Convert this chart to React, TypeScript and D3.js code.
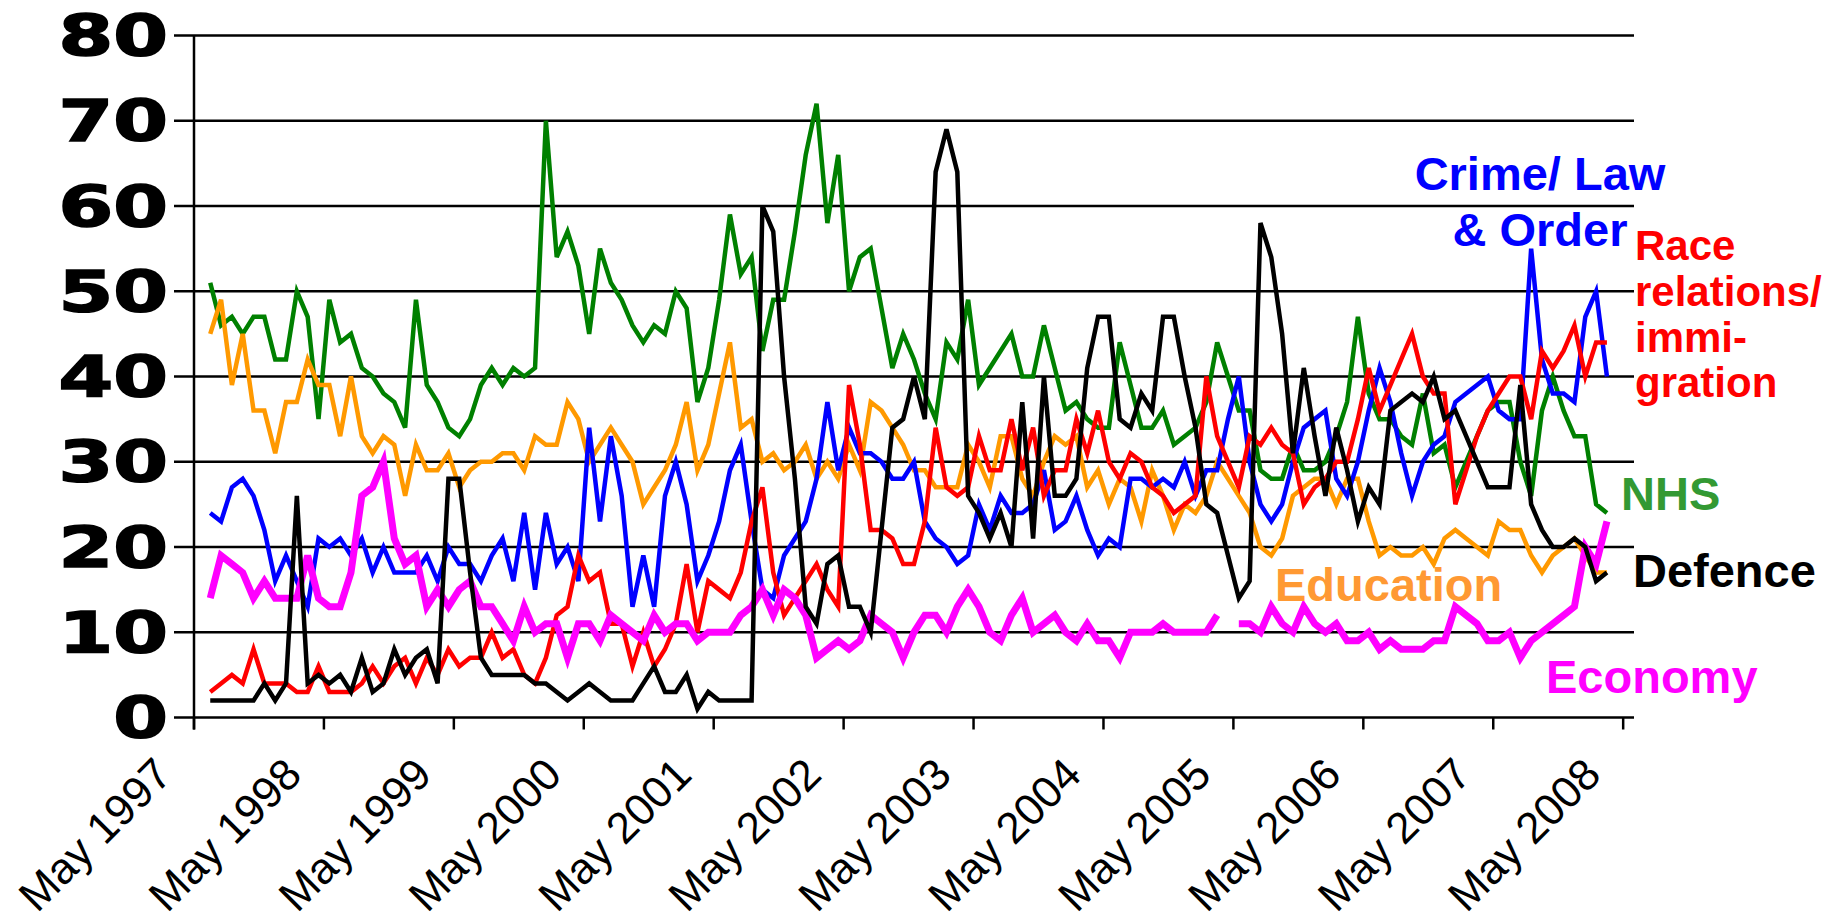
import React from 'react';
import * as d3 from 'd3';

const tickLabels = ['May 1997','May 1998','May 1999','May 2000','May 2001','May 2002','May 2003','May 2004','May 2005','May 2006','May 2007','May 2008'];
const yTicks = [0,10,20,30,40,50,60,70,80];

const nhs = [51,46,47,45,47,47,42,42,50,47,35,49,44,45,41,
 40,38,37,34,49,39,37,34,33,35,39,41,39,41,40,41,
 70,54,57,53,45,55,51,49,46,44,46,45,50,48,37,41,
 49,59,52,54,43,49,49,57,66,72,58,66,50,54,55,48,
 41,45,42,38,35,44,42,49,39,41,43,45,40,40,46,
 41,36,37,35,34,34,44,39,34,34,36,32,33,34,37,44,
 40,36,36,29,28,28,32,29,29,30,33,37,47,38,35,35,
 33,32,38,31,32,27,30,33,36,37,37,30,26,36,40,36,33,33,25,24];

const education = [45,49,39,45,36,36,31,37,37,42,39,39,33,40,33,
 31,33,32,26,32,29,29,31,27,29,30,30,31,31,29,33,
 32,32,37,35,30,32,34,32,30,25,27,29,32,37,29,32,
 38,44,34,35,30,31,29,30,32,28,30,28,32,29,37,36,
 34,32,29,29,27,27,27,32,30,27,33,33,28,26,30,
 33,32,33,27,29,25,28,27,23,29,26,22,25,24,26,30,
 28,26,24,20,19,21,26,27,28,28,25,28,28,23,19,20,
 19,19,20,18,21,22,21,20,19,23,22,22,19,17,19,20,21,19,17,17];

const crime = [24,23,27,28,26,22,16,19,16,13,21,20,21,19,21,
 17,20,17,17,17,19,16,20,18,18,16,19,21,16,24,15,
 24,18,20,16,34,23,33,26,13,19,13,26,30,25,16,19,
 23,29,32,23,15,14,19,21,23,28,37,29,34,31,31,30,
 28,28,30,23,21,20,18,19,25,22,26,24,24,25,29,
 22,23,26,22,19,21,20,28,28,27,28,27,30,26,29,29,
 35,40,30,25,23,25,30,34,35,36,28,26,30,36,41,37,
 31,26,30,32,33,37,38,39,40,36,35,35,55,42,38,38,37,47,50,40];

const race = [3,4,5,4,8,4,4,4,3,3,6,3,3,3,4,
 6,4,6,7,4,7,5,8,6,7,7,10,7,8,5,4,
 7,12,13,19,16,17,11,11,6,10,6,8,11,18,10,16,
 15,14,17,23,27,17,12,14,16,18,15,13,39,32,22,22,
 21,18,18,23,34,27,26,27,33,29,29,35,29,34,26,
 29,29,35,31,36,30,28,31,30,27,26,24,25,26,40,33,
 30,27,33,32,34,32,31,25,27,28,30,30,35,41,36,39,
 42,45,40,38,38,25,29,33,36,38,40,40,35,43,41,43,46,40,44,44];

const economy: (number | null)[] = [14,19,18,17,14,16,14,14,14,19,14,13,13,17,26,
 27,30,21,18,19,13,15,13,15,16,13,13,11,9,13,10,
 11,11,7,11,11,9,12,11,10,9,12,10,11,11,9,10,
 10,10,12,13,15,12,15,14,12,7,8,9,8,9,12,11,
 10,7,10,12,12,10,13,15,13,10,9,12,14,10,11,
 12,10,9,11,9,9,7,10,10,10,11,10,10,10,10,12,
 null,11,11,10,13,11,10,13,11,10,11,9,9,10,8,9,
 8,8,8,9,9,13,12,11,9,9,10,7,9,10,11,12,13,20,18,23];

const defence = [2,2,2,2,2,4,2,4,26,4,5,4,5,3,7,
 3,4,8,5,7,8,4,28,28,17,7,5,5,5,5,4,
 4,3,2,3,4,3,2,2,2,4,6,3,3,5,1,3,
 2,2,2,2,60,57,40,28,13,11,18,19,13,13,10,22,
 34,35,40,35,64,69,64,26,24,21,24,20,37,21,40,
 26,26,28,41,47,47,35,34,38,36,47,47,40,34,25,24,
 19,14,16,58,54,45,31,41,33,26,34,29,23,27,25,36,
 37,38,37,40,35,36,33,30,27,27,27,39,25,22,20,20,21,20,16,17];

const series = [
  { name: 'NHS', values: nhs as (number | null)[], color: '#008000', width: 4.5 },
  { name: 'Education', values: education as (number | null)[], color: '#FF9900', width: 4.5 },
  { name: 'Crime', values: crime as (number | null)[], color: '#0000FF', width: 4.5 },
  { name: 'Race', values: race as (number | null)[], color: '#FF0000', width: 4.5 },
  { name: 'Economy', values: economy, color: '#FF00FF', width: 7 },
  { name: 'Defence', values: defence as (number | null)[], color: '#000000', width: 4.5 },
];

const FONT = '"Liberation Sans", Arial, Helvetica, sans-serif';

export default function App() {
  const W = 1829, H = 924;
  const x = d3.scaleLinear().domain([0, 133]).range([194, 1634]);
  const y = d3.scaleLinear().domain([0, 80]).range([717.5, 35.5]);
  const line = d3.line<number | null>()
    .defined(d => d != null)
    .x((_, i) => x(i + 1.5))
    .y(d => y(d as number));

  return (
    <svg width={W} height={H} style={{ position: 'absolute', left: 0, top: 0, background: '#fff' }}>
      {yTicks.map(t => (
        <g key={t}>
          <line x1={174} x2={1634} y1={y(t)} y2={y(t)} stroke="#000" strokeWidth={2.5} />
          <text transform={`translate(168,${y(t)}) scale(1.38,1)`} dy="0.36em" textAnchor="end"
            fontFamily='"DejaVu Sans", sans-serif' fontWeight="bold" fontSize={57} fill="#000"
            stroke="#000" strokeWidth={1.6}>{t}</text>
        </g>
      ))}
      <line x1={194} x2={194} y1={y(80)} y2={y(0) + 12} stroke="#000" strokeWidth={2.5} />
      {tickLabels.map((lab, k) => {
        const tx = x(k * 12);
        return (
          <g key={lab}>
            <line x1={tx} x2={tx} y1={y(0)} y2={y(0) + 12} stroke="#000" strokeWidth={2.5} />
            <text transform={`translate(${tx - 20},${777}) rotate(-45)`} textAnchor="end"
              fontFamily={FONT} fontSize={44} fill="#000">{lab}</text>
          </g>
        );
      })}
      {series.map(s => (
        <path key={s.name} d={line(s.values) || ''} fill="none" stroke={s.color}
          strokeWidth={s.width} strokeLinejoin="miter" strokeMiterlimit={4} />
      ))}
      <g fontFamily={FONT} fontWeight="bold">
        <text x={1540} y={190} textAnchor="middle" fontSize={47} fill="#0000FF">Crime/ Law</text>
        <text x={1540} y={246} textAnchor="middle" fontSize={47} fill="#0000FF">&amp; Order</text>
        <text x={1635} y={260} fontSize={42} fill="#FF0000">Race</text>
        <text x={1635} y={306} fontSize={42} fill="#FF0000">relations/</text>
        <text x={1635} y={352} fontSize={42} fill="#FF0000">immi-</text>
        <text x={1635} y={397} fontSize={42} fill="#FF0000">gration</text>
        <text x={1621} y={510} fontSize={47} fill="#339933">NHS</text>
        <text x={1633} y={587} fontSize={47} fill="#000000">Defence</text>
        <text x={1275} y={601} fontSize={47} fill="#FF9933">Education</text>
        <text x={1546} y={693} fontSize={47} fill="#FF00FF">Economy</text>
      </g>
    </svg>
  );
}
